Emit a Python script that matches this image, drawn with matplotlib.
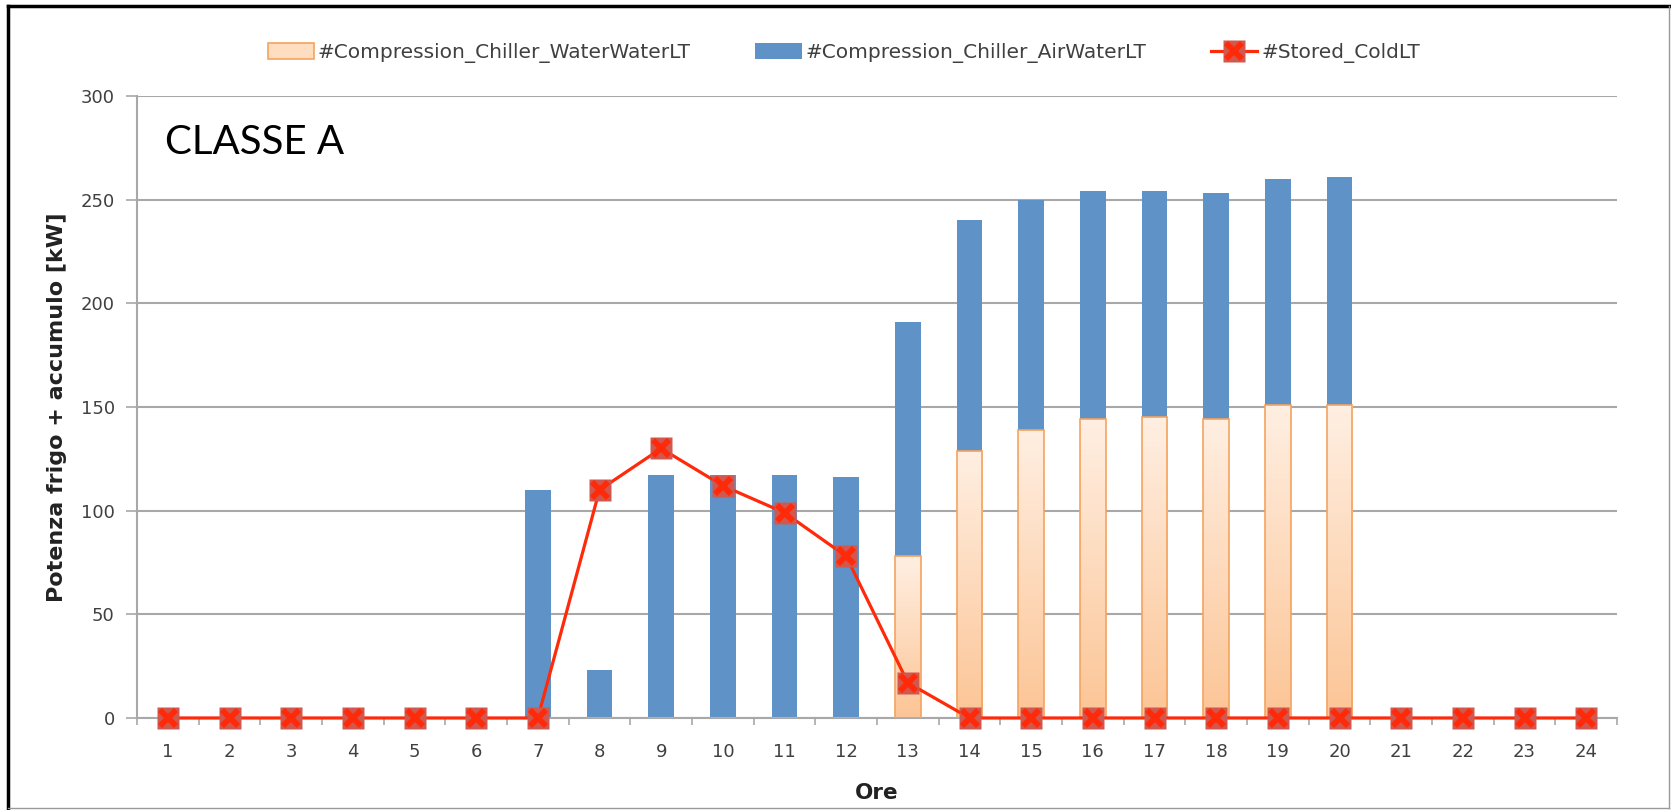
import numpy as np
import matplotlib.pyplot as plt
from matplotlib.patches import Rectangle
from matplotlib.colors import LinearSegmentedColormap
from matplotlib.legend_handler import HandlerTuple

plt.rcParams['font.family'] = ['DejaVu Sans']

# hours of the day
hours = list(range(1, 25))

# kW
water_water = [0, 0, 0, 0, 0, 0, 0, 0, 0, 0, 0, 0,
               78, 129, 139, 144, 145, 144, 151, 151, 0, 0, 0, 0]
air_water = [0, 0, 0, 0, 0, 0, 110, 23, 117, 117, 117, 116,
             113, 111, 111, 110, 109, 109, 109, 110, 0, 0, 0, 0]
stored_cold = [0, 0, 0, 0, 0, 0, 0, 110, 130, 112, 99, 78,
               17, 0, 0, 0, 0, 0, 0, 0, 0, 0, 0, 0]

labels = ['#Compression_Chiller_WaterWaterLT',
          '#Compression_Chiller_AirWaterLT',
          '#Stored_ColdLT']

blue = '#5F93C8'
orange_edge = '#F5A35E'
red = '#FF2A0A'
grid_col = '#A8A8A8'
text_col = '#404040'

fig = plt.figure(figsize=(16.71, 8.10), dpi=100)
ax = fig.add_axes([0.082, 0.1136, 0.8857, 0.7679])

x = np.arange(len(hours))
width = 0.42

# orange bars: gradient fill clipped to each bar
ww_bars = ax.bar(x, water_water, width, facecolor='none',
                 edgecolor=orange_edge, linewidth=1.2, zorder=3)
grad = np.linspace(0, 1, 100).reshape(-1, 1)
cmap = LinearSegmentedColormap.from_list('og', ['#FCC596', '#FFEFE2'])
for b in ww_bars:
    if b.get_height() <= 0:
        continue
    im = ax.imshow(grad, extent=[b.get_x(), b.get_x() + b.get_width(), 0, b.get_height()],
                   origin='lower', aspect='auto', cmap=cmap, zorder=2)
    im.set_clip_path(b)

ax.bar(x, air_water, width, bottom=water_water, color=blue, zorder=2)

# stored cold line with boxed x markers (not clipped, so the zeros show whole)
ln, = ax.plot(x, stored_cold, color=red, lw=2.3, marker='s', ms=16,
              mfc='#D0584F', mec='none', zorder=4, clip_on=False)
xm, = ax.plot(x, stored_cold, ls='none', marker='x', ms=12, mew=4.2,
              color=red, zorder=5, clip_on=False)

ax.set_xlim(-0.5, len(hours) - 0.5)
ax.set_ylim(0, 300)
ax.set_yticks(range(0, 301, 50))
ax.set_xticks(x)
ax.set_xticklabels(hours)
ax.set_xticks(np.arange(-0.5, len(hours), 1), minor=True)
ax.tick_params(axis='x', which='major', length=0, pad=18, labelsize=13, labelcolor=text_col)
ax.tick_params(axis='x', which='minor', length=5, width=1.2, color=grid_col, direction='out')
ax.tick_params(axis='y', length=8, width=1.2, color=grid_col, pad=8,
               labelsize=13, labelcolor=text_col)
ax.yaxis.grid(True, color=grid_col, lw=1.5)
ax.set_axisbelow(True)
for s in ['top', 'right']:
    ax.spines[s].set_visible(False)
for s in ['left', 'bottom']:
    ax.spines[s].set_color(grid_col)
    ax.spines[s].set_linewidth(1.5)

ax.set_xlabel('Ore', fontsize=15.5, fontweight='bold', color='#222222', labelpad=16)
ax.set_ylabel('Potenza frigo + accumulo [kW]', fontsize=16, fontweight='bold',
              color='#222222', labelpad=10)

ax.text(0.019, 0.925, 'CLASSE A', transform=ax.transAxes, fontsize=29,
        family='Lato', va='center', ha='left', color='black')

# legend
h_ww = Rectangle((0, 0), 1, 1, facecolor='#FFDDC0', edgecolor=orange_edge, lw=1.2)
h_aw = Rectangle((0, 0), 1, 1, facecolor=blue, edgecolor='none')
leg = fig.legend([h_ww, h_aw, (ln, xm)], labels, loc='center',
                 bbox_to_anchor=(0.505, 0.9346), ncol=3, frameon=False,
                 fontsize=14.5, columnspacing=3.2, handlelength=2.3,
                 handletextpad=0.2, handleheight=0.8,
                 handler_map={tuple: HandlerTuple(ndivide=1)})
for t in leg.get_texts():
    t.set_color(text_col)

# outer frame
fig.add_artist(plt.Line2D([0.0045, 0.0045], [0, 0.992], transform=fig.transFigure,
                          color='black', lw=2.5))
fig.add_artist(plt.Line2D([0.0045, 0.999], [0.992, 0.992], transform=fig.transFigure,
                          color='black', lw=2.5))
fig.add_artist(plt.Line2D([0.9988, 0.9988], [0.003, 0.992], transform=fig.transFigure,
                          color='#999999', lw=1))
fig.add_artist(plt.Line2D([0.0045, 0.9988], [0.003, 0.003], transform=fig.transFigure,
                          color='#999999', lw=1))

fig.savefig('out.png', dpi=100)
